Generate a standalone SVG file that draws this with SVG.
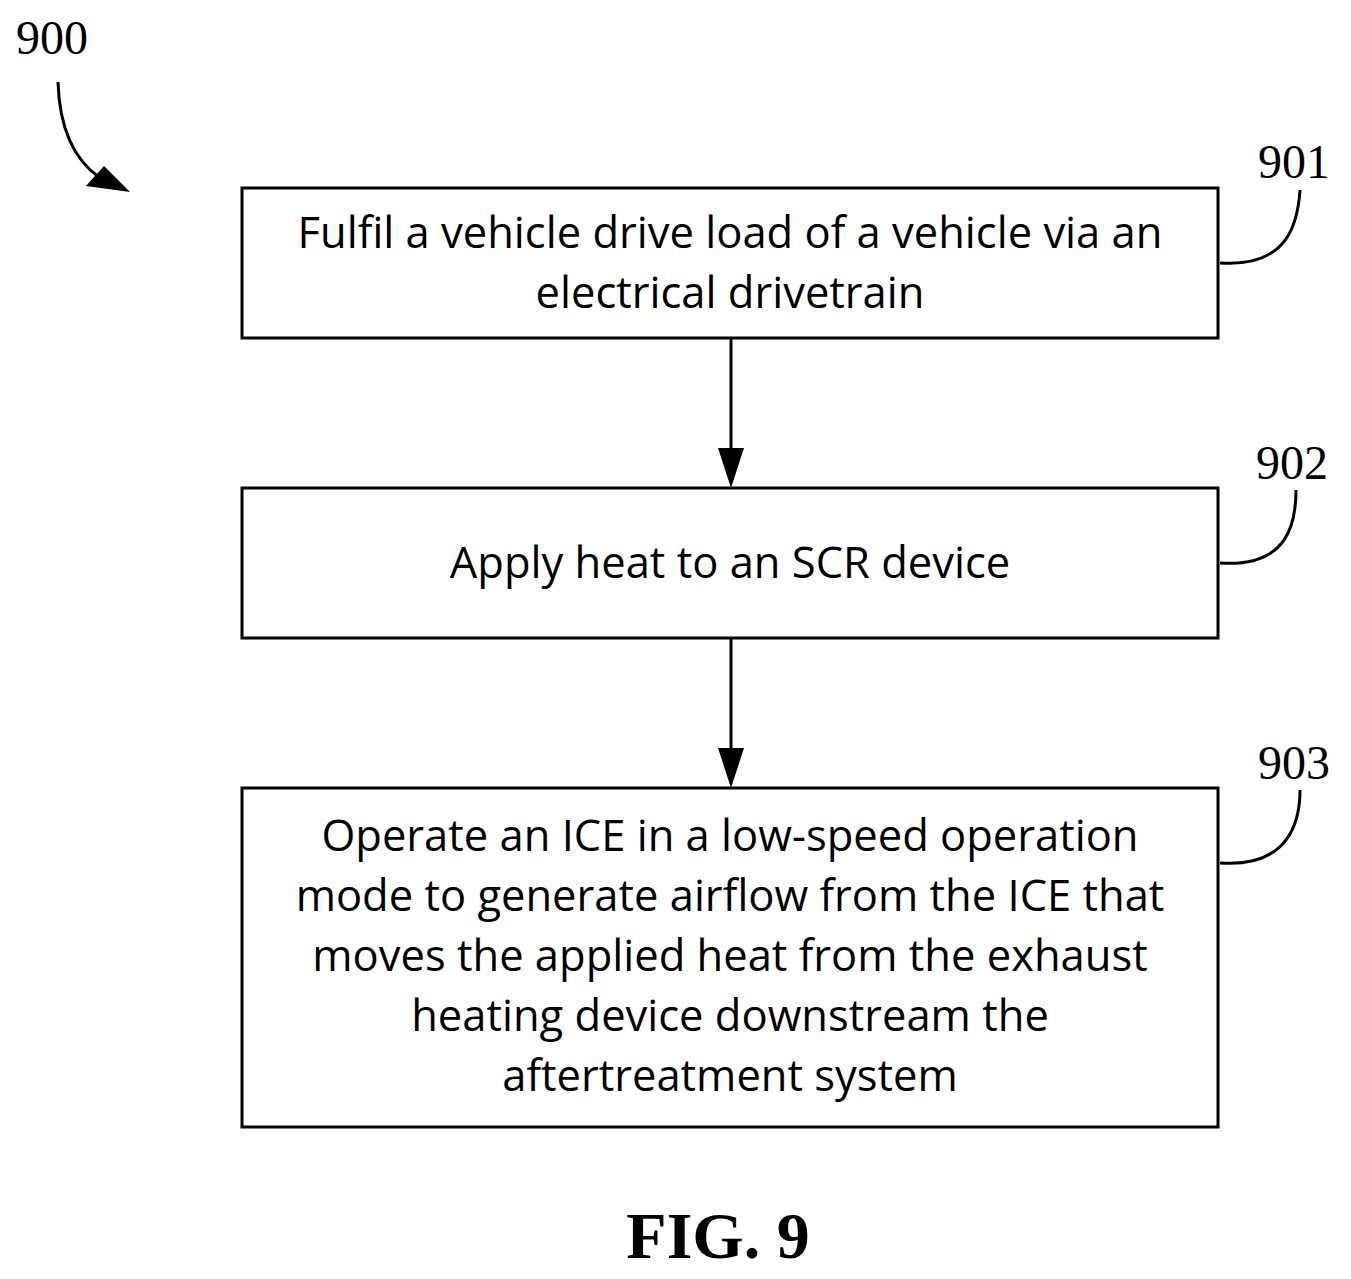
<svg xmlns="http://www.w3.org/2000/svg" width="1351" height="1279" viewBox="0 0 1351 1279">
<defs>
<style>
.box{fill:#fff;stroke:#000;stroke-width:3}
.t{font-family:"Open Sans","Liberation Sans",sans-serif;font-size:43.5px;text-anchor:middle}
.lbl{font-family:"Liberation Serif",serif;font-size:48px}
.ln{fill:none;stroke:#000;stroke-width:3}
</style>
</defs>
<rect width="1351" height="1279" fill="#fff"/>
<g id="label900">
<text class="lbl" x="16" y="54">900</text>
<path class="ln" d="M58,82 Q60,150 100,178"/>
<path d="M130,192 L86,186 L104,166 Z"/>
</g>
<g id="n901">
<rect class="box" x="242" y="188" width="976" height="150"/>
<text class="t" x="730" y="248">Fulfil a vehicle drive load of a vehicle via an</text>
<text class="t" x="730" y="308">electrical drivetrain</text>
<text class="lbl" x="1258" y="178">901</text>
<path class="ln" d="M1220,263 C1290,268 1298,220 1300,190"/>
</g>
<g id="n902">
<rect class="box" x="242" y="488" width="976" height="150"/>
<text class="t" x="730" y="578">Apply heat to an SCR device</text>
<text class="lbl" x="1256" y="479">902</text>
<path class="ln" d="M1220,563 C1290,568 1296,520 1296,490"/>
</g>
<g id="n903">
<rect class="box" x="242" y="788" width="976" height="339"/>
<text class="t" x="730" y="851">Operate an ICE in a low-speed operation</text>
<text class="t" x="730" y="911">mode to generate airflow from the ICE that</text>
<text class="t" x="730" y="971">moves the applied heat from the exhaust</text>
<text class="t" x="730" y="1031">heating device downstream the</text>
<text class="t" x="730" y="1091">aftertreatment system</text>
<text class="lbl" x="1258" y="779">903</text>
<path class="ln" d="M1220,863 C1290,868 1300,820 1300,790"/>
</g>
<g id="connectors">
<line class="ln" x1="731" y1="338" x2="731" y2="450"/>
<path d="M718,448 L744,448 L731,488 Z"/>
<line class="ln" x1="731" y1="638" x2="731" y2="750"/>
<path d="M718,748 L744,748 L731,788 Z"/>
</g>
<text x="718" y="1258" font-family="Liberation Serif,serif" font-size="66" font-weight="bold" text-anchor="middle">FIG. 9</text>
</svg>
